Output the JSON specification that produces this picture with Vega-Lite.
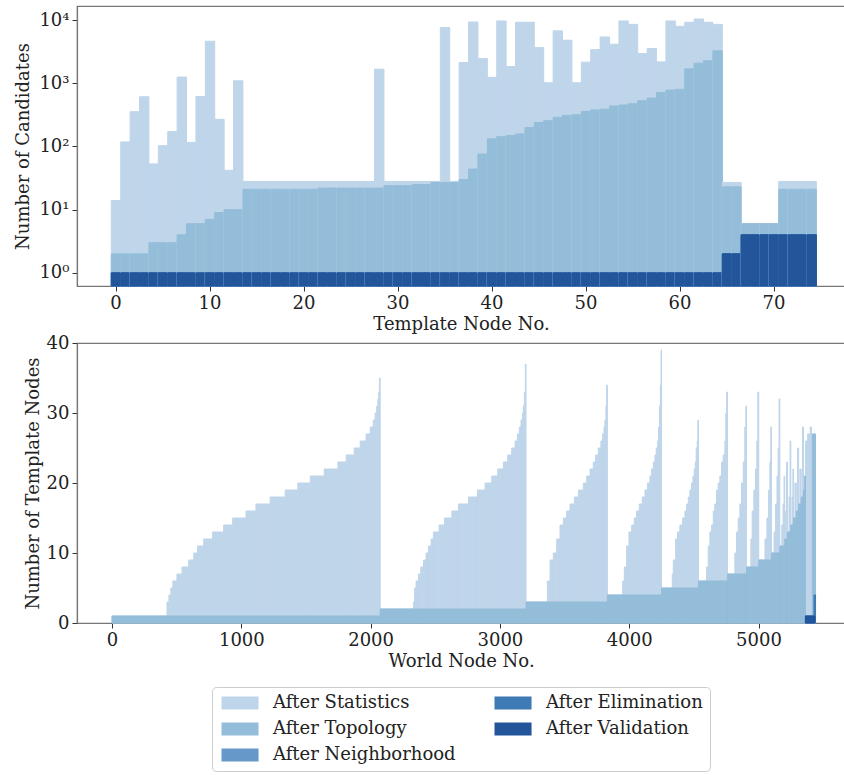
{
  "$schema": "https://vega.github.io/schema/vega-lite/v6.json",
  "padding": {"left": 13, "top": 5, "right": 0, "bottom": 0},
  "autosize": {"type": "pad"},
  "spacing": 57,
  "bounds": "flush",
  "datasets": {
    "template": [
      {"node":0,"After Statistics":14,"After Topology":2,"After Neighborhood":1,"After Elimination":1,"After Validation":1},
      {"node":1,"After Statistics":118,"After Topology":2,"After Neighborhood":1,"After Elimination":1,"After Validation":1},
      {"node":2,"After Statistics":355,"After Topology":2,"After Neighborhood":1,"After Elimination":1,"After Validation":1},
      {"node":3,"After Statistics":612,"After Topology":2,"After Neighborhood":1,"After Elimination":1,"After Validation":1},
      {"node":4,"After Statistics":53,"After Topology":3,"After Neighborhood":1,"After Elimination":1,"After Validation":1},
      {"node":5,"After Statistics":103,"After Topology":3,"After Neighborhood":1,"After Elimination":1,"After Validation":1},
      {"node":6,"After Statistics":172,"After Topology":3,"After Neighborhood":1,"After Elimination":1,"After Validation":1},
      {"node":7,"After Statistics":1253,"After Topology":4,"After Neighborhood":1,"After Elimination":1,"After Validation":1},
      {"node":8,"After Statistics":116,"After Topology":6,"After Neighborhood":1,"After Elimination":1,"After Validation":1},
      {"node":9,"After Statistics":617,"After Topology":6,"After Neighborhood":1,"After Elimination":1,"After Validation":1},
      {"node":10,"After Statistics":4630,"After Topology":7,"After Neighborhood":1,"After Elimination":1,"After Validation":1},
      {"node":11,"After Statistics":269,"After Topology":9,"After Neighborhood":1,"After Elimination":1,"After Validation":1},
      {"node":12,"After Statistics":42,"After Topology":10,"After Neighborhood":1,"After Elimination":1,"After Validation":1},
      {"node":13,"After Statistics":1096,"After Topology":10,"After Neighborhood":1,"After Elimination":1,"After Validation":1},
      {"node":14,"After Statistics":28,"After Topology":21,"After Neighborhood":1,"After Elimination":1,"After Validation":1},
      {"node":15,"After Statistics":28,"After Topology":21,"After Neighborhood":1,"After Elimination":1,"After Validation":1},
      {"node":16,"After Statistics":28,"After Topology":21,"After Neighborhood":1,"After Elimination":1,"After Validation":1},
      {"node":17,"After Statistics":28,"After Topology":21,"After Neighborhood":1,"After Elimination":1,"After Validation":1},
      {"node":18,"After Statistics":28,"After Topology":21,"After Neighborhood":1,"After Elimination":1,"After Validation":1},
      {"node":19,"After Statistics":28,"After Topology":21,"After Neighborhood":1,"After Elimination":1,"After Validation":1},
      {"node":20,"After Statistics":28,"After Topology":21,"After Neighborhood":1,"After Elimination":1,"After Validation":1},
      {"node":21,"After Statistics":28,"After Topology":21,"After Neighborhood":1,"After Elimination":1,"After Validation":1},
      {"node":22,"After Statistics":28,"After Topology":22,"After Neighborhood":1,"After Elimination":1,"After Validation":1},
      {"node":23,"After Statistics":28,"After Topology":22,"After Neighborhood":1,"After Elimination":1,"After Validation":1},
      {"node":24,"After Statistics":28,"After Topology":22,"After Neighborhood":1,"After Elimination":1,"After Validation":1},
      {"node":25,"After Statistics":28,"After Topology":22,"After Neighborhood":1,"After Elimination":1,"After Validation":1},
      {"node":26,"After Statistics":28,"After Topology":22,"After Neighborhood":1,"After Elimination":1,"After Validation":1},
      {"node":27,"After Statistics":28,"After Topology":22,"After Neighborhood":1,"After Elimination":1,"After Validation":1},
      {"node":28,"After Statistics":1670,"After Topology":22,"After Neighborhood":1,"After Elimination":1,"After Validation":1},
      {"node":29,"After Statistics":28,"After Topology":24,"After Neighborhood":1,"After Elimination":1,"After Validation":1},
      {"node":30,"After Statistics":28,"After Topology":24,"After Neighborhood":1,"After Elimination":1,"After Validation":1},
      {"node":31,"After Statistics":28,"After Topology":24,"After Neighborhood":1,"After Elimination":1,"After Validation":1},
      {"node":32,"After Statistics":28,"After Topology":25,"After Neighborhood":1,"After Elimination":1,"After Validation":1},
      {"node":33,"After Statistics":28,"After Topology":25,"After Neighborhood":1,"After Elimination":1,"After Validation":1},
      {"node":34,"After Statistics":28,"After Topology":27,"After Neighborhood":1,"After Elimination":1,"After Validation":1},
      {"node":35,"After Statistics":7600,"After Topology":27,"After Neighborhood":1,"After Elimination":1,"After Validation":1},
      {"node":36,"After Statistics":28,"After Topology":27,"After Neighborhood":1,"After Elimination":1,"After Validation":1},
      {"node":37,"After Statistics":2130,"After Topology":30,"After Neighborhood":1,"After Elimination":1,"After Validation":1},
      {"node":38,"After Statistics":9330,"After Topology":44,"After Neighborhood":1,"After Elimination":1,"After Validation":1},
      {"node":39,"After Statistics":2460,"After Topology":76,"After Neighborhood":1,"After Elimination":1,"After Validation":1},
      {"node":40,"After Statistics":1240,"After Topology":132,"After Neighborhood":1,"After Elimination":1,"After Validation":1},
      {"node":41,"After Statistics":9680,"After Topology":143,"After Neighborhood":1,"After Elimination":1,"After Validation":1},
      {"node":42,"After Statistics":1840,"After Topology":149,"After Neighborhood":1,"After Elimination":1,"After Validation":1},
      {"node":43,"After Statistics":9230,"After Topology":158,"After Neighborhood":1,"After Elimination":1,"After Validation":1},
      {"node":44,"After Statistics":9230,"After Topology":200,"After Neighborhood":1,"After Elimination":1,"After Validation":1},
      {"node":45,"After Statistics":3670,"After Topology":240,"After Neighborhood":1,"After Elimination":1,"After Validation":1},
      {"node":46,"After Statistics":1020,"After Topology":256,"After Neighborhood":1,"After Elimination":1,"After Validation":1},
      {"node":47,"After Statistics":6750,"After Topology":289,"After Neighborhood":1,"After Elimination":1,"After Validation":1},
      {"node":48,"After Statistics":4800,"After Topology":311,"After Neighborhood":1,"After Elimination":1,"After Validation":1},
      {"node":49,"After Statistics":1020,"After Topology":318,"After Neighborhood":1,"After Elimination":1,"After Validation":1},
      {"node":50,"After Statistics":2160,"After Topology":359,"After Neighborhood":1,"After Elimination":1,"After Validation":1},
      {"node":51,"After Statistics":3410,"After Topology":378,"After Neighborhood":1,"After Elimination":1,"After Validation":1},
      {"node":52,"After Statistics":5410,"After Topology":389,"After Neighborhood":1,"After Elimination":1,"After Validation":1},
      {"node":53,"After Statistics":4150,"After Topology":437,"After Neighborhood":1,"After Elimination":1,"After Validation":1},
      {"node":54,"After Statistics":9680,"After Topology":453,"After Neighborhood":1,"After Elimination":1,"After Validation":1},
      {"node":55,"After Statistics":8550,"After Topology":475,"After Neighborhood":1,"After Elimination":1,"After Validation":1},
      {"node":56,"After Statistics":2950,"After Topology":530,"After Neighborhood":1,"After Elimination":1,"After Validation":1},
      {"node":57,"After Statistics":3540,"After Topology":584,"After Neighborhood":1,"After Elimination":1,"After Validation":1},
      {"node":58,"After Statistics":2180,"After Topology":716,"After Neighborhood":1,"After Elimination":1,"After Validation":1},
      {"node":59,"After Statistics":9680,"After Topology":781,"After Neighborhood":1,"After Elimination":1,"After Validation":1},
      {"node":60,"After Statistics":7970,"After Topology":800,"After Neighborhood":1,"After Elimination":1,"After Validation":1},
      {"node":61,"After Statistics":9230,"After Topology":1690,"After Neighborhood":1,"After Elimination":1,"After Validation":1},
      {"node":62,"After Statistics":10400,"After Topology":2080,"After Neighborhood":1,"After Elimination":1,"After Validation":1},
      {"node":63,"After Statistics":9230,"After Topology":2270,"After Neighborhood":1,"After Elimination":1,"After Validation":1},
      {"node":64,"After Statistics":8550,"After Topology":3260,"After Neighborhood":1,"After Elimination":1,"After Validation":1},
      {"node":65,"After Statistics":27,"After Topology":23,"After Neighborhood":2,"After Elimination":2,"After Validation":2},
      {"node":66,"After Statistics":27,"After Topology":23,"After Neighborhood":2,"After Elimination":2,"After Validation":2},
      {"node":67,"After Statistics":6,"After Topology":6,"After Neighborhood":4,"After Elimination":4,"After Validation":4},
      {"node":68,"After Statistics":6,"After Topology":6,"After Neighborhood":4,"After Elimination":4,"After Validation":4},
      {"node":69,"After Statistics":6,"After Topology":6,"After Neighborhood":4,"After Elimination":4,"After Validation":4},
      {"node":70,"After Statistics":6,"After Topology":6,"After Neighborhood":4,"After Elimination":4,"After Validation":4},
      {"node":71,"After Statistics":28,"After Topology":21,"After Neighborhood":4,"After Elimination":4,"After Validation":4},
      {"node":72,"After Statistics":28,"After Topology":21,"After Neighborhood":4,"After Elimination":4,"After Validation":4},
      {"node":73,"After Statistics":28,"After Topology":21,"After Neighborhood":4,"After Elimination":4,"After Validation":4},
      {"node":74,"After Statistics":28,"After Topology":21,"After Neighborhood":4,"After Elimination":4,"After Validation":4}
    ],
    "world": [
      {"series":"After Statistics","x0":0,"x1":425,"v":1},
      {"series":"After Statistics","x0":425,"x1":440,"v":3},
      {"series":"After Statistics","x0":440,"x1":455,"v":4},
      {"series":"After Statistics","x0":455,"x1":470,"v":5},
      {"series":"After Statistics","x0":470,"x1":502,"v":6},
      {"series":"After Statistics","x0":502,"x1":541,"v":7},
      {"series":"After Statistics","x0":541,"x1":593,"v":8},
      {"series":"After Statistics","x0":593,"x1":632,"v":9},
      {"series":"After Statistics","x0":632,"x1":662,"v":10},
      {"series":"After Statistics","x0":662,"x1":709,"v":11},
      {"series":"After Statistics","x0":709,"x1":778,"v":12},
      {"series":"After Statistics","x0":778,"x1":863,"v":13},
      {"series":"After Statistics","x0":863,"x1":933,"v":14},
      {"series":"After Statistics","x0":933,"x1":1036,"v":15},
      {"series":"After Statistics","x0":1036,"x1":1113,"v":16},
      {"series":"After Statistics","x0":1113,"x1":1223,"v":17},
      {"series":"After Statistics","x0":1223,"x1":1339,"v":18},
      {"series":"After Statistics","x0":1339,"x1":1437,"v":19},
      {"series":"After Statistics","x0":1437,"x1":1533,"v":20},
      {"series":"After Statistics","x0":1533,"x1":1641,"v":21},
      {"series":"After Statistics","x0":1641,"x1":1747,"v":22},
      {"series":"After Statistics","x0":1747,"x1":1811,"v":23},
      {"series":"After Statistics","x0":1811,"x1":1873,"v":24},
      {"series":"After Statistics","x0":1873,"x1":1919,"v":25},
      {"series":"After Statistics","x0":1919,"x1":1965,"v":26},
      {"series":"After Statistics","x0":1965,"x1":1997,"v":27},
      {"series":"After Statistics","x0":1997,"x1":2020,"v":28},
      {"series":"After Statistics","x0":2020,"x1":2035,"v":29},
      {"series":"After Statistics","x0":2035,"x1":2047,"v":30},
      {"series":"After Statistics","x0":2047,"x1":2056,"v":31},
      {"series":"After Statistics","x0":2056,"x1":2063,"v":32},
      {"series":"After Statistics","x0":2063,"x1":2068,"v":33},
      {"series":"After Statistics","x0":2068,"x1":2074,"v":35},
      {"series":"After Statistics","x0":2074,"x1":2331,"v":2},
      {"series":"After Statistics","x0":2331,"x1":2340,"v":3},
      {"series":"After Statistics","x0":2340,"x1":2352,"v":5},
      {"series":"After Statistics","x0":2352,"x1":2370,"v":6},
      {"series":"After Statistics","x0":2370,"x1":2388,"v":7},
      {"series":"After Statistics","x0":2388,"x1":2409,"v":8},
      {"series":"After Statistics","x0":2409,"x1":2429,"v":9},
      {"series":"After Statistics","x0":2429,"x1":2447,"v":10},
      {"series":"After Statistics","x0":2447,"x1":2468,"v":11},
      {"series":"After Statistics","x0":2468,"x1":2486,"v":12},
      {"series":"After Statistics","x0":2486,"x1":2530,"v":13},
      {"series":"After Statistics","x0":2530,"x1":2571,"v":14},
      {"series":"After Statistics","x0":2571,"x1":2628,"v":15},
      {"series":"After Statistics","x0":2628,"x1":2679,"v":16},
      {"series":"After Statistics","x0":2679,"x1":2757,"v":17},
      {"series":"After Statistics","x0":2757,"x1":2826,"v":18},
      {"series":"After Statistics","x0":2826,"x1":2885,"v":19},
      {"series":"After Statistics","x0":2885,"x1":2937,"v":20},
      {"series":"After Statistics","x0":2937,"x1":2983,"v":21},
      {"series":"After Statistics","x0":2983,"x1":3027,"v":22},
      {"series":"After Statistics","x0":3027,"x1":3060,"v":23},
      {"series":"After Statistics","x0":3060,"x1":3091,"v":24},
      {"series":"After Statistics","x0":3091,"x1":3117,"v":25},
      {"series":"After Statistics","x0":3117,"x1":3135,"v":26},
      {"series":"After Statistics","x0":3135,"x1":3150,"v":27},
      {"series":"After Statistics","x0":3150,"x1":3163,"v":28},
      {"series":"After Statistics","x0":3163,"x1":3174,"v":29},
      {"series":"After Statistics","x0":3174,"x1":3181,"v":30},
      {"series":"After Statistics","x0":3181,"x1":3189,"v":31},
      {"series":"After Statistics","x0":3189,"x1":3197,"v":33},
      {"series":"After Statistics","x0":3197,"x1":3202,"v":37},
      {"series":"After Statistics","x0":3202,"x1":3367,"v":3},
      {"series":"After Statistics","x0":3367,"x1":3388,"v":6},
      {"series":"After Statistics","x0":3388,"x1":3413,"v":9},
      {"series":"After Statistics","x0":3413,"x1":3439,"v":10},
      {"series":"After Statistics","x0":3439,"x1":3465,"v":12},
      {"series":"After Statistics","x0":3465,"x1":3491,"v":14},
      {"series":"After Statistics","x0":3491,"x1":3516,"v":15},
      {"series":"After Statistics","x0":3516,"x1":3542,"v":16},
      {"series":"After Statistics","x0":3542,"x1":3576,"v":17},
      {"series":"After Statistics","x0":3576,"x1":3607,"v":18},
      {"series":"After Statistics","x0":3607,"x1":3645,"v":19},
      {"series":"After Statistics","x0":3645,"x1":3671,"v":20},
      {"series":"After Statistics","x0":3671,"x1":3697,"v":21},
      {"series":"After Statistics","x0":3697,"x1":3722,"v":22},
      {"series":"After Statistics","x0":3722,"x1":3740,"v":23},
      {"series":"After Statistics","x0":3740,"x1":3761,"v":24},
      {"series":"After Statistics","x0":3761,"x1":3781,"v":25},
      {"series":"After Statistics","x0":3781,"x1":3794,"v":26},
      {"series":"After Statistics","x0":3794,"x1":3805,"v":27},
      {"series":"After Statistics","x0":3805,"x1":3812,"v":28},
      {"series":"After Statistics","x0":3812,"x1":3820,"v":29},
      {"series":"After Statistics","x0":3820,"x1":3825,"v":31},
      {"series":"After Statistics","x0":3825,"x1":3831,"v":34},
      {"series":"After Statistics","x0":3831,"x1":3949,"v":4},
      {"series":"After Statistics","x0":3949,"x1":3962,"v":6},
      {"series":"After Statistics","x0":3962,"x1":3980,"v":8},
      {"series":"After Statistics","x0":3980,"x1":3998,"v":11},
      {"series":"After Statistics","x0":3998,"x1":4019,"v":13},
      {"series":"After Statistics","x0":4019,"x1":4039,"v":14},
      {"series":"After Statistics","x0":4039,"x1":4057,"v":15},
      {"series":"After Statistics","x0":4057,"x1":4078,"v":16},
      {"series":"After Statistics","x0":4078,"x1":4101,"v":17},
      {"series":"After Statistics","x0":4101,"x1":4122,"v":18},
      {"series":"After Statistics","x0":4122,"x1":4142,"v":19},
      {"series":"After Statistics","x0":4142,"x1":4160,"v":20},
      {"series":"After Statistics","x0":4160,"x1":4173,"v":21},
      {"series":"After Statistics","x0":4173,"x1":4186,"v":22},
      {"series":"After Statistics","x0":4186,"x1":4199,"v":23},
      {"series":"After Statistics","x0":4199,"x1":4209,"v":24},
      {"series":"After Statistics","x0":4209,"x1":4220,"v":25},
      {"series":"After Statistics","x0":4220,"x1":4227,"v":26},
      {"series":"After Statistics","x0":4227,"x1":4235,"v":28},
      {"series":"After Statistics","x0":4235,"x1":4241,"v":31},
      {"series":"After Statistics","x0":4241,"x1":4246,"v":34},
      {"series":"After Statistics","x0":4246,"x1":4250,"v":39},
      {"series":"After Statistics","x0":4250,"x1":4333,"v":5},
      {"series":"After Statistics","x0":4333,"x1":4341,"v":7},
      {"series":"After Statistics","x0":4341,"x1":4359,"v":9},
      {"series":"After Statistics","x0":4359,"x1":4374,"v":12},
      {"series":"After Statistics","x0":4374,"x1":4392,"v":13},
      {"series":"After Statistics","x0":4392,"x1":4413,"v":14},
      {"series":"After Statistics","x0":4413,"x1":4431,"v":15},
      {"series":"After Statistics","x0":4431,"x1":4444,"v":16},
      {"series":"After Statistics","x0":4444,"x1":4457,"v":17},
      {"series":"After Statistics","x0":4457,"x1":4469,"v":18},
      {"series":"After Statistics","x0":4469,"x1":4482,"v":19},
      {"series":"After Statistics","x0":4482,"x1":4493,"v":20},
      {"series":"After Statistics","x0":4493,"x1":4503,"v":21},
      {"series":"After Statistics","x0":4503,"x1":4511,"v":22},
      {"series":"After Statistics","x0":4511,"x1":4518,"v":23},
      {"series":"After Statistics","x0":4518,"x1":4526,"v":25},
      {"series":"After Statistics","x0":4526,"x1":4531,"v":26},
      {"series":"After Statistics","x0":4531,"x1":4536,"v":29},
      {"series":"After Statistics","x0":4536,"x1":4598,"v":6},
      {"series":"After Statistics","x0":4598,"x1":4611,"v":8},
      {"series":"After Statistics","x0":4611,"x1":4624,"v":11},
      {"series":"After Statistics","x0":4624,"x1":4637,"v":13},
      {"series":"After Statistics","x0":4637,"x1":4650,"v":14},
      {"series":"After Statistics","x0":4650,"x1":4662,"v":16},
      {"series":"After Statistics","x0":4662,"x1":4675,"v":17},
      {"series":"After Statistics","x0":4675,"x1":4688,"v":19},
      {"series":"After Statistics","x0":4688,"x1":4701,"v":20},
      {"series":"After Statistics","x0":4701,"x1":4714,"v":21},
      {"series":"After Statistics","x0":4714,"x1":4727,"v":23},
      {"series":"After Statistics","x0":4727,"x1":4740,"v":24},
      {"series":"After Statistics","x0":4740,"x1":4747,"v":26},
      {"series":"After Statistics","x0":4747,"x1":4753,"v":30},
      {"series":"After Statistics","x0":4753,"x1":4760,"v":33},
      {"series":"After Statistics","x0":4760,"x1":4817,"v":7},
      {"series":"After Statistics","x0":4817,"x1":4830,"v":10},
      {"series":"After Statistics","x0":4830,"x1":4843,"v":13},
      {"series":"After Statistics","x0":4843,"x1":4856,"v":15},
      {"series":"After Statistics","x0":4856,"x1":4869,"v":17},
      {"series":"After Statistics","x0":4869,"x1":4882,"v":20},
      {"series":"After Statistics","x0":4882,"x1":4894,"v":23},
      {"series":"After Statistics","x0":4894,"x1":4902,"v":28},
      {"series":"After Statistics","x0":4902,"x1":4907,"v":31},
      {"series":"After Statistics","x0":4907,"x1":4941,"v":8},
      {"series":"After Statistics","x0":4941,"x1":4951,"v":12},
      {"series":"After Statistics","x0":4951,"x1":4964,"v":16},
      {"series":"After Statistics","x0":4964,"x1":4977,"v":19},
      {"series":"After Statistics","x0":4977,"x1":4987,"v":22},
      {"series":"After Statistics","x0":4987,"x1":4995,"v":26},
      {"series":"After Statistics","x0":4995,"x1":5002,"v":33},
      {"series":"After Statistics","x0":5002,"x1":5050,"v":9},
      {"series":"After Statistics","x0":5050,"x1":5065,"v":12},
      {"series":"After Statistics","x0":5065,"x1":5078,"v":15},
      {"series":"After Statistics","x0":5078,"x1":5088,"v":19},
      {"series":"After Statistics","x0":5088,"x1":5095,"v":23},
      {"series":"After Statistics","x0":5095,"x1":5100,"v":28},
      {"series":"After Statistics","x0":5100,"x1":5120,"v":10},
      {"series":"After Statistics","x0":5120,"x1":5132,"v":13},
      {"series":"After Statistics","x0":5132,"x1":5143,"v":17},
      {"series":"After Statistics","x0":5143,"x1":5152,"v":21},
      {"series":"After Statistics","x0":5152,"x1":5159,"v":25},
      {"series":"After Statistics","x0":5159,"x1":5165,"v":32},
      {"series":"After Statistics","x0":5165,"x1":5180,"v":11},
      {"series":"After Statistics","x0":5180,"x1":5190,"v":14},
      {"series":"After Statistics","x0":5190,"x1":5198,"v":17},
      {"series":"After Statistics","x0":5198,"x1":5203,"v":21},
      {"series":"After Statistics","x0":5203,"x1":5210,"v":12},
      {"series":"After Statistics","x0":5210,"x1":5217,"v":16},
      {"series":"After Statistics","x0":5217,"x1":5224,"v":23},
      {"series":"After Statistics","x0":5224,"x1":5236,"v":13},
      {"series":"After Statistics","x0":5236,"x1":5244,"v":18},
      {"series":"After Statistics","x0":5244,"x1":5250,"v":26},
      {"series":"After Statistics","x0":5250,"x1":5260,"v":14},
      {"series":"After Statistics","x0":5260,"x1":5266,"v":18},
      {"series":"After Statistics","x0":5266,"x1":5271,"v":22},
      {"series":"After Statistics","x0":5271,"x1":5282,"v":15},
      {"series":"After Statistics","x0":5282,"x1":5292,"v":20},
      {"series":"After Statistics","x0":5292,"x1":5302,"v":16},
      {"series":"After Statistics","x0":5302,"x1":5310,"v":25},
      {"series":"After Statistics","x0":5310,"x1":5320,"v":17},
      {"series":"After Statistics","x0":5320,"x1":5330,"v":22},
      {"series":"After Statistics","x0":5330,"x1":5340,"v":18},
      {"series":"After Statistics","x0":5340,"x1":5348,"v":28},
      {"series":"After Statistics","x0":5348,"x1":5357,"v":19},
      {"series":"After Statistics","x0":5357,"x1":5363,"v":21},
      {"series":"After Statistics","x0":5363,"x1":5380,"v":26},
      {"series":"After Statistics","x0":5380,"x1":5400,"v":27},
      {"series":"After Statistics","x0":5400,"x1":5410,"v":28},
      {"series":"After Statistics","x0":5410,"x1":5441,"v":27},
      {"series":"After Topology","x0":0,"x1":2074,"v":1},
      {"series":"After Topology","x0":2074,"x1":3202,"v":2},
      {"series":"After Topology","x0":3202,"x1":3831,"v":3},
      {"series":"After Topology","x0":3831,"x1":4250,"v":4},
      {"series":"After Topology","x0":4250,"x1":4536,"v":5},
      {"series":"After Topology","x0":4536,"x1":4760,"v":6},
      {"series":"After Topology","x0":4760,"x1":4907,"v":7},
      {"series":"After Topology","x0":4907,"x1":5002,"v":8},
      {"series":"After Topology","x0":5002,"x1":5100,"v":9},
      {"series":"After Topology","x0":5100,"x1":5165,"v":10},
      {"series":"After Topology","x0":5165,"x1":5203,"v":11},
      {"series":"After Topology","x0":5203,"x1":5224,"v":12},
      {"series":"After Topology","x0":5224,"x1":5250,"v":13},
      {"series":"After Topology","x0":5250,"x1":5271,"v":14},
      {"series":"After Topology","x0":5271,"x1":5292,"v":15},
      {"series":"After Topology","x0":5292,"x1":5310,"v":16},
      {"series":"After Topology","x0":5310,"x1":5330,"v":17},
      {"series":"After Topology","x0":5330,"x1":5348,"v":18},
      {"series":"After Topology","x0":5348,"x1":5357,"v":19},
      {"series":"After Topology","x0":5357,"x1":5363,"v":21},
      {"series":"After Topology","x0":5363,"x1":5417,"v":1},
      {"series":"After Topology","x0":5417,"x1":5441,"v":27},
      {"series":"After Neighborhood","x0":5363,"x1":5430,"v":1},
      {"series":"After Neighborhood","x0":5430,"x1":5441,"v":4},
      {"series":"After Elimination","x0":5363,"x1":5430,"v":1},
      {"series":"After Elimination","x0":5430,"x1":5441,"v":4},
      {"series":"After Validation","x0":5363,"x1":5437,"v":1}
    ]
  },
  "vconcat": [
    {
      "width": 768,
      "height": 280,
      "data": {"name": "template"},
      "transform": [{"fold": ["After Statistics", "After Topology", "After Neighborhood", "After Elimination", "After Validation"], "as": ["series", "v"]}],
      "mark": {"type": "bar", "strokeWidth": 1, "opacity": 1, "fillOpacity": 1, "strokeOpacity": 1},
      "encoding": {
        "x": {
          "field": "node", "type": "ordinal",
          "scale": {"type": "band", "domain": [-3,-2,-1,0,1,2,3,4,5,6,7,8,9,10,11,12,13,14,15,16,17,18,19,20,21,22,23,24,25,26,27,28,29,30,31,32,33,34,35,36,37,38,39,40,41,42,43,44,45,46,47,48,49,50,51,52,53,54,55,56,57,58,59,60,61,62,63,64,65,66,67,68,69,70,71,72,73,74,75,76,77], "paddingInner": 0, "paddingOuter": 0.35, "align": 0.93},
          "axis": {"values": [0,10,20,30,40,50,60,70], "labelAngle": 0, "title": "Template Node No."}
        },
        "y": {
          "field": "v", "type": "quantitative",
          "scale": {"type": "log", "domain": [0.62, 16700], "nice": false},
          "axis": {"values": [1,10,100,1000,10000], "labelExpr": "datum.value == 1 ? '10⁰' : datum.value == 10 ? '10¹' : datum.value == 100 ? '10²' : datum.value == 1000 ? '10³' : '10⁴'", "title": "Number of Candidates", "titleX": -45}
        },
        "y2": {"datum": 0.62},
        "color": {
          "field": "series", "type": "nominal",
          "scale": {"domain": ["After Statistics", "After Topology", "After Neighborhood", "After Elimination", "After Validation"], "range": ["#bfd5ea", "#94bdd9", "#6699c9", "#3e7ab6", "#23559b"]},
          "legend": {"orient": "none", "legendX": 135, "legendY": 681, "columns": 2, "title": null}
        },
        "stroke": {
          "field": "series", "type": "nominal",
          "scale": {"domain": ["After Statistics", "After Topology", "After Neighborhood", "After Elimination", "After Validation"], "range": ["#bfd5ea", "#94bdd9", "#6699c9", "#3e7ab6", "#23559b"]},
          "legend": null
        }
      }
    },
    {
      "width": 768,
      "height": 280,
      "data": {"name": "world"},
      "mark": {"type": "rect", "strokeWidth": 1, "opacity": 1, "fillOpacity": 1, "strokeOpacity": 1},
      "encoding": {
        "x": {
          "field": "x0", "type": "quantitative",
          "scale": {"domain": [-271, 5669], "nice": false, "zero": false},
          "axis": {"values": [0,1000,2000,3000,4000,5000], "format": "d", "title": "World Node No."}
        },
        "x2": {"field": "x1"},
        "y": {
          "field": "v", "type": "quantitative",
          "scale": {"domain": [0, 40], "nice": false},
          "axis": {"values": [0,10,20,30,40], "title": "Number of Template Nodes", "titleX": -35}
        },
        "y2": {"datum": 0},
        "color": {
          "field": "series", "type": "nominal",
          "scale": {"domain": ["After Statistics", "After Topology", "After Neighborhood", "After Elimination", "After Validation"], "range": ["#bfd5ea", "#94bdd9", "#6699c9", "#3e7ab6", "#23559b"]}
        },
        "stroke": {
          "field": "series", "type": "nominal",
          "scale": {"domain": ["After Statistics", "After Topology", "After Neighborhood", "After Elimination", "After Validation"], "range": ["#bfd5ea", "#94bdd9", "#6699c9", "#3e7ab6", "#23559b"]},
          "legend": null
        }
      }
    }
  ],
  "config": {
    "font": "DejaVu Serif",
    "view": {"stroke": "#777777", "strokeWidth": 1.2},
    "axis": {
      "labelFont": "DejaVu Serif", "titleFont": "DejaVu Serif",
      "labelFontSize": 18, "titleFontSize": 18, "titleFontWeight": "normal",
      "labelColor": "#222222", "titleColor": "#222222",
      "domainColor": "#777777", "domainWidth": 1.2, "tickColor": "#333333", "tickSize": 5,
      "grid": false, "labelPadding": 3, "titlePadding": 3
    },
    "legend": {
      "labelFont": "DejaVu Serif", "labelFontSize": 18, "labelColor": "#222222", "labelLimit": 0,
      "symbolType": "M-1,-1H4.7V1H-1Z", "symbolSize": 169, "symbolStrokeWidth": 0, "symbolOpacity": 1,
      "labelOffset": 36, "rowPadding": 8, "columnPadding": 36,
      "strokeColor": "#cccccc", "fillColor": "#ffffff", "padding": 7, "cornerRadius": 4
    }
  }
}
